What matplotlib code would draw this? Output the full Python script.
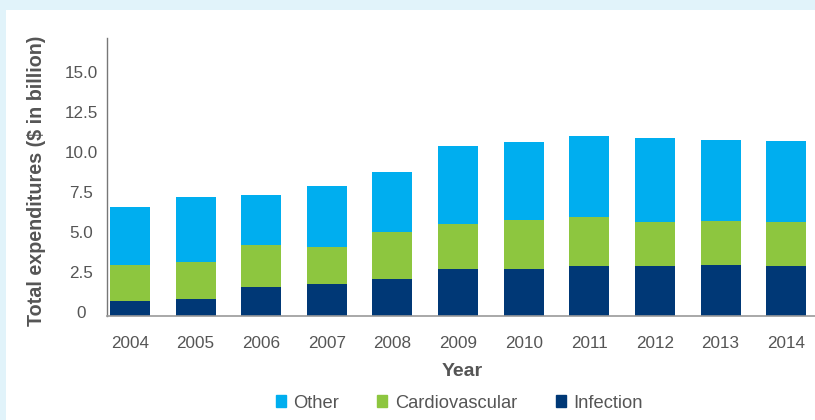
import matplotlib
matplotlib.use('Agg')
import matplotlib.pyplot as plt
import matplotlib.transforms as mtransforms
from matplotlib.patches import Rectangle, Patch
import numpy as np

plt.rcParams['font.family'] = ['Liberation Sans', 'DejaVu Sans']

# data ($ billion)
years = ['2004', '2005', '2006', '2007', '2008', '2009', '2010', '2011', '2012', '2013', '2014']
infection = [0.94, 1.06, 1.81, 2.0, 2.31, 2.94, 2.94, 3.13, 3.13, 3.19, 3.13]
cardiovascular = [2.25, 2.31, 2.63, 2.31, 2.94, 2.81, 3.06, 3.06, 2.75, 2.75, 2.75]
other = [3.63, 4.06, 3.13, 3.81, 3.75, 4.88, 4.88, 5.06, 5.25, 5.06, 5.06]
ytick_vals = [0, 2.5, 5.0, 7.5, 10.0, 12.5, 15.0]
ytick_labels = ['0', '2.5', '5.0', '7.5', '10.0', '12.5', '15.0']

c_inf = '#003876'
c_card = '#8dc63f'
c_oth = '#00aeef'
grey = '#555555'

fig = plt.figure(figsize=(8.15, 4.2), dpi=100)
fig.patch.set_facecolor('#e1f3fa')
# white panel behind the chart
fig.patches.append(Rectangle((6 / 815, 0), 1, 410 / 420, transform=fig.transFigure,
                             facecolor='white', edgecolor='none', zorder=-10))

ax = fig.add_axes([106.7 / 815, 104 / 420, 1 - 106.7 / 815, 278 / 420])
ax.set_facecolor('none')
ax.set_zorder(1)

x = np.arange(len(years))
w = 0.61
inf = np.array(infection)
card = np.array(cardiovascular)
oth = np.array(other)
ax.bar(x, inf, w, color=c_inf, label='Infection')
ax.bar(x, card, w, bottom=inf, color=c_card, label='Cardiovascular')
ax.bar(x, oth, w, bottom=inf + card, color=c_oth, label='Other')

ax.set_xlim(-0.355, 10.44)
ax.set_ylim(0, 17.375)

for s in ['top', 'right']:
    ax.spines[s].set_visible(False)
ax.spines['left'].set_color('#777777')
ax.spines['left'].set_linewidth(1.0)
ax.spines['bottom'].set_color('#999999')
ax.spines['bottom'].set_linewidth(1.2)

ax.set_xticks(x)
ax.set_xticklabels(years)
ax.set_yticks(ytick_vals)
ax.set_yticklabels(ytick_labels)
ax.tick_params(axis='both', length=0, labelsize=12.3, labelcolor=grey)
ax.tick_params(axis='x', pad=14.5)
ax.tick_params(axis='y', pad=18.5)
offset = mtransforms.ScaledTranslation(0, 4 / 100, fig.dpi_scale_trans)
for lab in ax.get_yticklabels():
    lab.set_horizontalalignment('center')
    lab.set_transform(lab.get_transform() + offset)

fig.text(462 / 815, 1 - 372 / 420, 'Year', ha='center', va='center',
         fontsize=14, fontweight='bold', color=grey)
fig.text(37 / 815, 1 - 181 / 420, 'Total expenditures ($ in billion)', ha='center', va='center',
         rotation=90, fontsize=14.2, fontweight='bold', color=grey)

handles = [Patch(color=c_oth, label='Other'),
           Patch(color=c_card, label='Cardiovascular'),
           Patch(color=c_inf, label='Infection')]
fig.legend(handles=handles, loc='center', bbox_to_anchor=(459 / 815, 1 - 403 / 420), ncol=3,
           frameon=False, fontsize=13.2, labelcolor=grey, handlelength=0.55, handleheight=0.55,
           handletextpad=0.4, columnspacing=2.1)

fig.savefig('out.png', dpi=100, facecolor=fig.get_facecolor())
